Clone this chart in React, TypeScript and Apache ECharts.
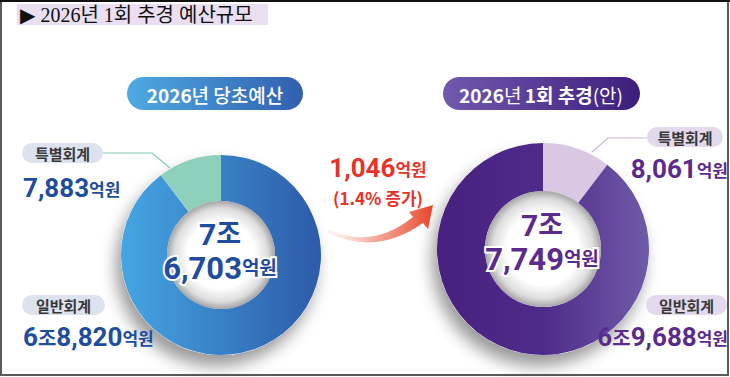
import React, { useEffect, useRef } from 'react';
import * as echarts from 'echarts';

// ---- data (억원) ----
const accountNames = ['특별회계', '일반회계'];
const originalBudget = [7883, 68820]; // 2026년 당초예산: 특별회계, 일반회계
const revisedBudget = [8061, 69688]; // 2026년 1회 추경(안): 특별회계, 일반회계
const chartTitle = '▶ 2026년 1회 추경 예산규모';

const FONT = '"Noto Sans CJK KR", "Noto Sans", sans-serif';
const DIGIT_FONT = 'Roboto, "Noto Sans CJK KR", sans-serif';
const SERIF = '"Liberation Serif", "DejaVu Serif", "Noto Sans CJK KR", serif';

const ARROW_D =
  'M 328 229 Q 372 250 413 217 L 409 212 L 433 205 L 428 229 L 423 223 Q 376 256 328 233 Z';
echarts.graphic.registerShape('curveArrow', echarts.graphic.extendPath(ARROW_D, {}));

const sum = (a: number[]) => a.reduce((s, v) => s + v, 0);
function split(v: number) {
  const jo = Math.floor(v / 10000);
  const rest = (v % 10000).toLocaleString('en-US');
  return { jo, rest };
}
function valueRich(v: number) {
  const { jo, rest } = split(v);
  return jo > 0 ? `{n|${jo}}{j|조}{n|${rest}}{u|억원}` : `{n|${rest}}{u|억원}`;
}

export default function App() {
  const ref = useRef<HTMLDivElement>(null);
  useEffect(() => {
    if (!ref.current) return;
    const chart = echarts.init(ref.current, undefined, { renderer: 'svg' });

    const totalA = sum(originalBudget);
    const totalB = sum(revisedBudget);
    const diff = totalB - totalA;
    const rate = ((diff / totalA) * 100).toFixed(1);

    const blue = '#1f4c9e';
    const purple = '#5a2b8d';
    const red = '#e5342a';

    const leftC = [221, 255];
    const rightC = [543, 249];
    const leftR = [54, 100];
    const rightR = [58, 106];

    const innerGrad = () =>
      new echarts.graphic.RadialGradient(0.5, 0.5, 0.5, [
        { offset: 0, color: '#ffffff' },
        { offset: 0.62, color: '#ffffff' },
        { offset: 0.86, color: '#dedede' },
        { offset: 1, color: '#a5a5a5' },
      ]);

    const basePie = {
      type: 'pie',
      silent: true,
      startAngle: 90,
      clockwise: true,
      label: { show: false },
      labelLine: { show: false },
      emphasis: { disabled: true },
      avoidLabelOverlap: false,
    };

    const shadowPie = (center: number[], r: number[]) => ({
      ...basePie,
      center,
      radius: [r[0], r[1]],
      z: 1,
      data: [
        {
          value: 1,
          itemStyle: {
            color: '#ffffff',
            shadowBlur: 16,
            shadowOffsetX: -5,
            shadowOffsetY: 11,
            shadowColor: 'rgba(0,0,0,0.4)',
          },
        },
      ],
    });
    const innerPie = (center: number[], r: number[]) => ({
      ...basePie,
      center,
      radius: [0, r[0]],
      z: 3,
      data: [{ value: 1, itemStyle: { color: innerGrad() } }],
    });

    const centerText = (x: number, y1: number, y2: number, total: number, color: string) => {
      const { jo, rest } = split(total);
      const common = {
        fill: color,
        fontWeight: 'bold',
        stroke: '#ffffff',
        lineWidth: 4,
      };
      return [
        {
          type: 'text',
          x,
          y: y1,
          z: 20,
          style: {
            text: `{a|${jo}}{k|조}`,
            align: 'center',
            verticalAlign: 'middle',
            rich: {
              a: { ...common, fontFamily: DIGIT_FONT, fontSize: 30 },
              k: { ...common, fontFamily: DIGIT_FONT, fontSize: 27 },
            },
          },
        },
        {
          type: 'text',
          x,
          y: y2,
          z: 20,
          style: {
            text: `{a|${rest}}{b|억원}`,
            align: 'center',
            verticalAlign: 'middle',
            rich: {
              a: { ...common, fontFamily: DIGIT_FONT, fontSize: 31 },
              b: { ...common, fontFamily: DIGIT_FONT, fontSize: 19 },
            },
          },
        },
      ];
    };

    const valRichStyles = (color: string) => ({
      n: { fill: color, fontFamily: DIGIT_FONT, fontWeight: 'bold', fontSize: 26 },
      j: { fill: color, fontFamily: FONT, fontWeight: 'bold', fontSize: 20 },
      u: { fill: color, fontFamily: FONT, fontWeight: 'bold', fontSize: 17 },
    });

    const smallPill = (x: number, y: number, w: number, name: string, bg: string) => [
      {
        type: 'rect',
        z: 10,
        shape: { x, y, width: w, height: 20, r: 10 },
        style: { fill: bg },
      },
      {
        type: 'text',
        z: 11,
        x: x + w / 2,
        y: y + 10,
        style: {
          text: name,
          align: 'center',
          verticalAlign: 'middle',
          fill: '#383838',
          fontFamily: FONT,
          fontWeight: 'bold',
          fontSize: 15,
        },
      },
    ];

    const pillRich = {
      b: { fill: '#fff', fontFamily: FONT, fontWeight: 'bold', fontSize: 19 },
      m: { fill: '#fff', fontFamily: FONT, fontWeight: 500, fontSize: 19 },
      l: { fill: '#fff', fontFamily: FONT, fontWeight: 400, fontSize: 19 },
    };

    const option = {
      animation: false,
      backgroundColor: '#ffffff',
      series: [
        shadowPie(leftC, leftR),
        {
          ...basePie,
          center: leftC,
          radius: leftR,
          z: 2,
          data: [
            {
              name: accountNames[1],
              value: originalBudget[1],
              itemStyle: {
                color: new echarts.graphic.LinearGradient(0, 0, 1, 0, [
                  { offset: 0, color: '#45a6e3' },
                  { offset: 1, color: '#2d5aa8' },
                ]),
              },
            },
            { name: accountNames[0], value: originalBudget[0], itemStyle: { color: '#8fd0bd' } },
          ],
        },
        innerPie(leftC, leftR),
        shadowPie(rightC, rightR),
        {
          ...basePie,
          center: rightC,
          radius: rightR,
          z: 2,
          data: [
            { name: accountNames[0], value: revisedBudget[0], itemStyle: { color: '#d9c7e3' } },
            {
              name: accountNames[1],
              value: revisedBudget[1],
              itemStyle: {
                color: new echarts.graphic.LinearGradient(0, 0, 1, 0, [
                  { offset: 0, color: '#48207f' },
                  { offset: 0.5, color: '#4f2b89' },
                  { offset: 1, color: '#6f5ba8' },
                ]),
              },
            },
          ],
        },
        innerPie(rightC, rightR),
      ],
      graphic: [
        // frame
        { type: 'rect', shape: { x: 1, y: 1, width: 727, height: 374 }, style: { fill: 'none', stroke: '#5a5a5a', lineWidth: 2 } },
        { type: 'line', shape: { x1: 0, y1: 1, x2: 730, y2: 1 }, style: { stroke: '#111', lineWidth: 2 } },
        // title
        { type: 'rect', shape: { x: 17, y: 4, width: 251, height: 21 }, style: { fill: '#eadff1' } },
        {
          type: 'text',
          x: 20,
          y: 15,
          style: {
            text: chartTitle,
            align: 'left',
            verticalAlign: 'middle',
            fill: '#111',
            fontFamily: SERIF,
            fontSize: 20,
          },
        },
        // title pills
        {
          type: 'rect',
          z: 10,
          shape: { x: 127, y: 77, width: 176, height: 33, r: 16.5 },
          style: {
            fill: new echarts.graphic.LinearGradient(0, 0, 1, 0, [
              { offset: 0, color: '#4eaae2' },
              { offset: 1, color: '#315fb0' },
            ]),
          },
        },
        {
          type: 'text',
          z: 11,
          x: 215,
          y: 94,
          style: {
            text: '{b|2026}{m|년 당초예산}',
            align: 'center',
            verticalAlign: 'middle',
            rich: pillRich,
          },
        },
        {
          type: 'rect',
          z: 10,
          shape: { x: 443, y: 77, width: 197, height: 33, r: 16.5 },
          style: {
            fill: new echarts.graphic.LinearGradient(0, 0, 1, 0, [
              { offset: 0, color: '#7159ae' },
              { offset: 1, color: '#3d1e7d' },
            ]),
          },
        },
        {
          type: 'text',
          z: 11,
          x: 541,
          y: 94,
          style: {
            text: '{b|2026}{l|년} {b|1회 추경}{l|(안)}',
            align: 'center',
            verticalAlign: 'middle',
            rich: pillRich,
          },
        },
        // left labels
        ...smallPill(22, 143, 81, accountNames[0], '#dde2ef'),
        {
          type: 'polyline',
          z: 5,
          shape: { points: [[103, 153], [152, 153], [170, 168]] },
          style: { stroke: '#7fcab6', lineWidth: 1.2, fill: 'none' },
        },
        {
          type: 'text',
          z: 11,
          x: 23,
          y: 188,
          style: { text: valueRich(originalBudget[0]), align: 'left', verticalAlign: 'middle', rich: valRichStyles(blue) },
        },
        ...smallPill(22, 295, 83, accountNames[1], '#dde2ef'),
        {
          type: 'text',
          z: 11,
          x: 23,
          y: 337,
          style: { text: valueRich(originalBudget[1]), align: 'left', verticalAlign: 'middle', rich: valRichStyles(blue) },
        },
        // right labels
        ...smallPill(647, 127, 76, accountNames[0], '#e3d9ec'),
        {
          type: 'polyline',
          z: 5,
          shape: { points: [[647, 138], [608, 138], [592, 152]] },
          style: { stroke: '#c9b5da', lineWidth: 1.2, fill: 'none' },
        },
        {
          type: 'text',
          z: 11,
          x: 728,
          y: 169,
          style: { text: valueRich(revisedBudget[0]), align: 'right', verticalAlign: 'middle', rich: valRichStyles(purple) },
        },
        ...smallPill(646, 295, 81, accountNames[1], '#e3d9ec'),
        {
          type: 'text',
          z: 11,
          x: 728,
          y: 337,
          style: { text: valueRich(revisedBudget[1]), align: 'right', verticalAlign: 'middle', rich: valRichStyles(purple) },
        },
        // middle change
        {
          type: 'text',
          z: 11,
          x: 378,
          y: 168,
          style: {
            text: valueRich(diff),
            align: 'center',
            verticalAlign: 'middle',
            rich: {
              n: { fill: red, fontFamily: DIGIT_FONT, fontWeight: 'bold', fontSize: 26 },
              u: { fill: red, fontFamily: FONT, fontWeight: 'bold', fontSize: 17 },
              j: { fill: red, fontFamily: FONT, fontWeight: 'bold', fontSize: 20 },
            },
          },
        },
        {
          type: 'text',
          z: 11,
          x: 378,
          y: 197,
          style: {
            text: `(${rate}% 증가)`,
            align: 'center',
            verticalAlign: 'middle',
            fill: red,
            fontFamily: FONT,
            fontWeight: 'bold',
            fontSize: 17,
          },
        },
        {
          type: 'curveArrow',
          z: 11,
          style: {
            fill: new echarts.graphic.LinearGradient(0, 0, 1, 0, [
              { offset: 0, color: 'rgba(246,190,180,0.15)' },
              { offset: 0.45, color: 'rgba(240,140,120,0.75)' },
              { offset: 1, color: '#e8452a' },
            ]),
          },
        },
        // center totals
        ...centerText(220, 234, 268, totalA, blue),
        ...centerText(542, 225, 259, totalB, purple),
      ],
    };

    chart.setOption(option as any);
    return () => chart.dispose();
  }, []);

  return (
    <div
      ref={ref}
      style={{ position: 'fixed', left: 0, top: 0, width: 730, height: 377, background: '#fff' }}
    />
  );
}
